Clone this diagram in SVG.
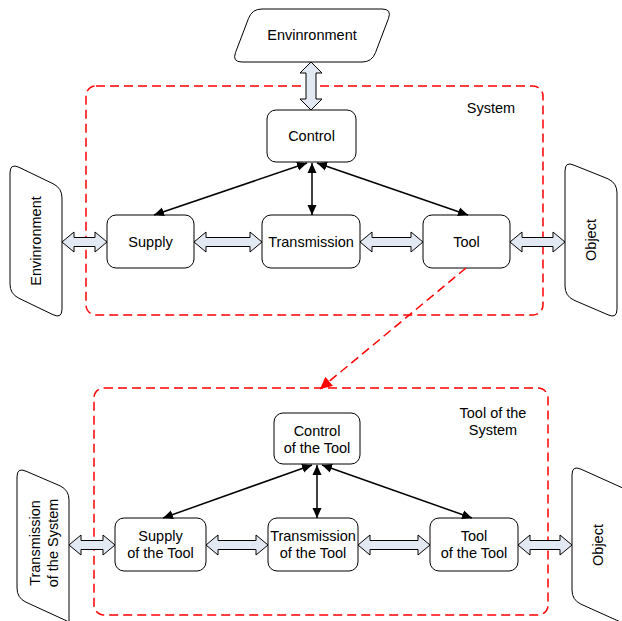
<svg xmlns="http://www.w3.org/2000/svg" width="622" height="621" viewBox="0 0 622 621">
<defs>
<marker id="ah" viewBox="0 0 10 10" refX="10" refY="5" markerWidth="10" markerHeight="10" markerUnits="userSpaceOnUse" orient="auto-start-reverse"><path d="M0,0.5 L10,5 L0,9.5 Z" fill="#000"/></marker>
<marker id="rh" viewBox="0 0 10 10" refX="10" refY="5" markerWidth="12" markerHeight="12" markerUnits="userSpaceOnUse" orient="auto"><path d="M0,0 L10,5 L0,10 Z" fill="#ff0000"/></marker>
</defs>
<style>
text{font-family:"Liberation Sans",Arial,sans-serif;font-size:14.5px;fill:#000;text-anchor:middle;dominant-baseline:central}
.box{fill:#fff;stroke:#000;stroke-width:1}
.sh{fill:#fff;stroke:#000;stroke-width:1}
.da{fill:#e3e9f3;stroke:#000;stroke-width:1}
.frame{fill:none;stroke:#ff0000;stroke-width:1.5;stroke-dasharray:9,5}
.ln{stroke:#000;stroke-width:1.5;fill:none}
</style>
<g id="system-frame"><rect class="frame" x="86" y="86" width="457" height="229" rx="10"/><text x="491" y="108">System</text></g>
<g id="tool-frame"><rect class="frame" x="94" y="388" width="454" height="227" rx="10"/><text x="493" y="413">Tool of the</text><text x="493" y="430">System</text></g>
<g id="env-top"><path class="sh" d="M262,9 H382 Q392,9 388.5,18.4 L375.5,52.6 Q372,62 362,62 H242 Q232,62 235.5,52.6 L248.5,18.4 Q252,9 262,9 Z"/><text x="312" y="35">Envinronment</text></g>
<g id="env-left"><path class="sh" d="M10,173 Q10,163 19,167.3 L53,183.7 Q62,188 62,198 V309 Q62,319 53,314.7 L19,298.3 Q10,294 10,284 Z"/><text transform="translate(36,241) rotate(-90)">Envinronment</text></g>
<g id="object-top"><path class="sh" d="M565,171 Q565,161 574,165.2 L608,178.8 Q617,183 617,193 V309 Q617,319 608,314.8 L574,300.2 Q565,296 565,286 Z"/><text transform="translate(591,240) rotate(-90)">Object</text></g>
<g id="control"><rect class="box" x="267" y="110" width="89" height="52" rx="9"/><text x="311.5" y="136">Control</text></g>
<g id="supply"><rect class="box" x="107" y="215" width="87" height="53" rx="9"/><text x="150.5" y="241.5">Supply</text></g>
<g id="transmission"><rect class="box" x="262" y="215" width="98" height="53" rx="9"/><text x="311" y="241.5">Transmission</text></g>
<g id="tool"><rect class="box" x="423" y="215" width="87" height="53" rx="9"/><text x="466.5" y="241.5">Tool</text></g>
<g id="trans-sys"><path class="sh" d="M17,477 Q17,467 26,471.2 L60,485.8 Q69,490 69,500 V621 M17,477 V588 Q17,598 26,602.2 L60,617.8 Q69,622 69,622"/><text transform="translate(35,543) rotate(-90)">Transmission</text><text transform="translate(53,543) rotate(-90)">of the System</text></g>
<g id="object-bottom"><path class="sh" d="M625,489 L581,469.2 Q572,465 572,475 V590 Q572,600 581,604.2 L625,624"/><text transform="translate(598,545) rotate(-90)">Object</text></g>
<g id="control-tool"><rect class="box" x="274" y="413" width="86" height="51" rx="9"/><text x="317" y="431">Control</text><text x="317" y="448">of the Tool</text></g>
<g id="supply-tool"><rect class="box" x="115" y="518" width="91" height="53" rx="9"/><text x="160.5" y="536">Supply</text><text x="160.5" y="553">of the Tool</text></g>
<g id="trans-tool"><rect class="box" x="268" y="518" width="90" height="53" rx="9"/><text x="313" y="536">Transmission</text><text x="313" y="553">of the Tool</text></g>
<g id="tool-tool"><rect class="box" x="430" y="518" width="88" height="53" rx="9"/><text x="474" y="536">Tool</text><text x="474" y="553">of the Tool</text></g>
<g id="connectors">
<polygon class="da" points="311,62 322,73 316,73 316,99 322,99 311,110 300,99 306,99 306,73 300,73"/>
<polygon class="da" points="62,242 74,232 74,237.5 95,237.5 95,232 107,242 95,252 95,246.5 74,246.5 74,252"/>
<polygon class="da" points="194,242 206,232 206,237.5 250,237.5 250,232 262,242 250,252 250,246.5 206,246.5 206,252"/>
<polygon class="da" points="360,242 372,232 372,237.5 411,237.5 411,232 423,242 411,252 411,246.5 372,246.5 372,252"/>
<polygon class="da" points="510,242 522,232 522,237.5 553,237.5 553,232 565,242 553,252 553,246.5 522,246.5 522,252"/>
<polygon class="da" points="69,545 81,535 81,540.5 103,540.5 103,535 115,545 103,555 103,549.5 81,549.5 81,555"/>
<polygon class="da" points="206,545 218,535 218,540.5 256,540.5 256,535 268,545 256,555 256,549.5 218,549.5 218,555"/>
<polygon class="da" points="358,545 370,535 370,540.5 418,540.5 418,535 430,545 418,555 418,549.5 370,549.5 370,555"/>
<polygon class="da" points="518,545 530,535 530,540.5 560,540.5 560,535 572,545 560,555 560,549.5 530,549.5 530,555"/>
<line class="ln" x1="307" y1="163" x2="154" y2="215" marker-start="url(#ah)" marker-end="url(#ah)"/>
<line class="ln" x1="312" y1="163" x2="312" y2="215" marker-start="url(#ah)" marker-end="url(#ah)"/>
<line class="ln" x1="317" y1="163" x2="468" y2="215" marker-start="url(#ah)" marker-end="url(#ah)"/>
<line class="ln" x1="312" y1="465" x2="163" y2="518" marker-start="url(#ah)" marker-end="url(#ah)"/>
<line class="ln" x1="317" y1="465" x2="317" y2="518" marker-start="url(#ah)" marker-end="url(#ah)"/>
<line class="ln" x1="322" y1="465" x2="472" y2="518" marker-start="url(#ah)" marker-end="url(#ah)"/>
<line x1="466" y1="268" x2="320" y2="389" stroke="#ff0000" stroke-width="1.5" stroke-dasharray="9,5" marker-end="url(#rh)"/>
</g>
</svg>
